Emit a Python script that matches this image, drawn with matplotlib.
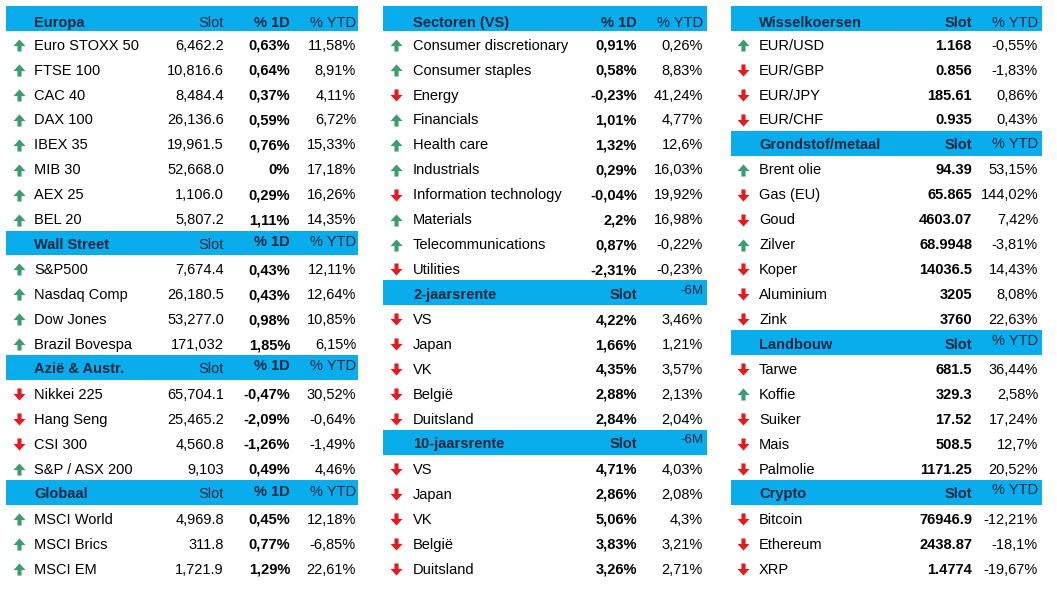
import matplotlib
matplotlib.use("Agg")
import matplotlib.pyplot as plt
from matplotlib.path import Path

# ---- data ----
europa_names = ["Euro STOXX 50", "FTSE 100", "CAC 40", "DAX 100", "IBEX 35", "MIB 30", "AEX 25", "BEL 20"]
europa_slot = ["6,462.2", "10,816.6", "8,484.4", "26,136.6", "19,961.5", "52,668.0", "1,106.0", "5,807.2"]
europa_1d = ["0,63%", "0,64%", "0,37%", "0,59%", "0,76%", "0%", "0,29%", "1,11%"]
europa_ytd = ["11,58%", "8,91%", "4,11%", "6,72%", "15,33%", "17,18%", "16,26%", "14,35%"]
europa_dir = [1, 1, 1, 1, 1, 1, 1, 1]

ws_names = ["S&P500", "Nasdaq Comp", "Dow Jones", "Brazil Bovespa"]
ws_slot = ["7,674.4", "26,180.5", "53,277.0", "171,032"]
ws_1d = ["0,43%", "0,43%", "0,98%", "1,85%"]
ws_ytd = ["12,11%", "12,64%", "10,85%", "6,15%"]
ws_dir = [1, 1, 1, 1]

azie_names = ["Nikkei 225", "Hang Seng", "CSI 300", "S&P / ASX 200"]
azie_slot = ["65,704.1", "25,465.2", "4,560.8", "9,103"]
azie_1d = ["-0,47%", "-2,09%", "-1,26%", "0,49%"]
azie_ytd = ["30,52%", "-0,64%", "-1,49%", "4,46%"]
azie_dir = [-1, -1, -1, 1]

glob_names = ["MSCI World", "MSCI Brics", "MSCI EM"]
glob_slot = ["4,969.8", "311.8", "1,721.9"]
glob_1d = ["0,45%", "0,77%", "1,29%"]
glob_ytd = ["12,18%", "-6,85%", "22,61%"]
glob_dir = [1, 1, 1]

sect_names = ["Consumer discretionary", "Consumer staples", "Energy", "Financials", "Health care",
              "Industrials", "Information technology", "Materials", "Telecommunications", "Utilities"]
sect_1d = ["0,91%", "0,58%", "-0,23%", "1,01%", "1,32%", "0,29%", "-0,04%", "2,2%", "0,87%", "-2,31%"]
sect_ytd = ["0,26%", "8,83%", "41,24%", "4,77%", "12,6%", "16,03%", "19,92%", "16,98%", "-0,22%", "-0,23%"]
sect_dir = [1, 1, -1, 1, 1, 1, -1, 1, 1, -1]

rente_names = ["VS", "Japan", "VK", "België", "Duitsland"]
rente2_slot = ["4,22%", "1,66%", "4,35%", "2,88%", "2,84%"]
rente2_6m = ["3,46%", "1,21%", "3,57%", "2,13%", "2,04%"]
rente2_dir = [-1, -1, -1, -1, -1]
rente10_slot = ["4,71%", "2,86%", "5,06%", "3,83%", "3,26%"]
rente10_6m = ["4,03%", "2,08%", "4,3%", "3,21%", "2,71%"]
rente10_dir = [-1, -1, -1, -1, -1]

fx_names = ["EUR/USD", "EUR/GBP", "EUR/JPY", "EUR/CHF"]
fx_slot = ["1.168", "0.856", "185.61", "0.935"]
fx_ytd = ["-0,55%", "-1,83%", "0,86%", "0,43%"]
fx_dir = [1, -1, -1, -1]

grond_names = ["Brent olie", "Gas (EU)", "Goud", "Zilver", "Koper", "Aluminium", "Zink"]
grond_slot = ["94.39", "65.865", "4603.07", "68.9948", "14036.5", "3205", "3760"]
grond_ytd = ["53,15%", "144,02%", "7,42%", "-3,81%", "14,43%", "8,08%", "22,63%"]
grond_dir = [1, -1, -1, 1, -1, -1, -1]

land_names = ["Tarwe", "Koffie", "Suiker", "Mais", "Palmolie"]
land_slot = ["681.5", "329.3", "17.52", "508.5", "1171.25"]
land_ytd = ["36,44%", "2,58%", "17,24%", "12,7%", "20,52%"]
land_dir = [-1, 1, -1, -1, -1]

crypto_names = ["Bitcoin", "Ethereum", "XRP"]
crypto_slot = ["76946.9", "2438.87", "1.4774"]
crypto_ytd = ["-12,21%", "-18,1%", "-19,67%"]
crypto_dir = [-1, -1, -1]

# ---- styling ----
W, H = 1057, 592
BLUE = "#0AADEB"
NAVY = "#0F2741"
GREEN = "#3D9B70"
RED = "#E31A1F"
FONT = "Liberation Sans"
FS = 10.5
ROW0 = 6.0
PITCH = 24.95
CAP = 5.2  # half cap height in px

# header cells: (text, bold, dy, small)
panels = [
    dict(x0=6, x1=358, arrow=19, name=34, cols=[224, 290, 356], sections=[
        (("Europa", [("Slot", False, 0, False), ("% 1D", True, 0, False), ("% YTD", False, 0, False)]),
         europa_names, [europa_slot, europa_1d, europa_ytd], europa_dir),
        (("Wall Street", [("Slot", False, 0, False), ("% 1D", True, -3, False), ("% YTD", False, -3, False)]),
         ws_names, [ws_slot, ws_1d, ws_ytd], ws_dir),
        (("Azië & Austr.", [("Slot", False, 0, False), ("% 1D", True, -3, False), ("% YTD", False, -3, False)]),
         azie_names, [azie_slot, azie_1d, azie_ytd], azie_dir),
        (("Globaal", [("Slot", False, 0, False), ("% 1D", True, -2, False), ("% YTD", False, -2, False)]),
         glob_names, [glob_slot, glob_1d, glob_ytd], glob_dir),
    ], bold_col=1),
    dict(x0=383, x1=707, arrow=396, name=413, cols=[637, 703], sections=[
        (("Sectoren (VS)", [("% 1D", True, 0, False), ("% YTD", False, 0, False)]),
         sect_names, [sect_1d, sect_ytd], sect_dir),
        (("2-jaarsrente", [("Slot", True, 0, False), ("-6M", False, -5, True)]),
         rente_names, [rente2_slot, rente2_6m], rente2_dir),
        (("10-jaarsrente", [("Slot", True, 0, False), ("-6M", False, -5, True)]),
         rente_names, [rente10_slot, rente10_6m], rente10_dir),
    ], bold_col=0),
    dict(x0=731, x1=1042, arrow=743, name=759, cols=[972, 1038], sections=[
        (("Wisselkoersen", [("Slot", True, 0, False), ("% YTD", False, 0, False)]),
         fx_names, [fx_slot, fx_ytd], fx_dir),
        (("Grondstof/metaal", [("Slot", True, 0, False), ("% YTD", False, -1, False)]),
         grond_names, [grond_slot, grond_ytd], grond_dir),
        (("Landbouw", [("Slot", True, 0, False), ("% YTD", False, -4, False)]),
         land_names, [land_slot, land_ytd], land_dir),
        (("Crypto", [("Slot", True, 0, False), ("% YTD", False, -4, False)]),
         crypto_names, [crypto_slot, crypto_ytd], crypto_dir),
    ], bold_col=0),
]

# arrow marker shapes
up_verts = [(0, 0.5), (0.5, -0.05), (0.17, -0.05), (0.17, -0.5), (-0.17, -0.5),
            (-0.17, -0.05), (-0.5, -0.05), (0, 0.5)]
up_arrow = Path(up_verts, closed=True)
down_arrow = Path([(x, -y) for x, y in up_verts], closed=True)

fig = plt.figure(figsize=(W / 100, H / 100), dpi=100)
ax = fig.add_axes([0, 0, 1, 1])
ax.set_xlim(0, W)
ax.set_ylim(H, 0)
ax.axis("off")

for p in panels:
    row = 0
    for (title, heads), names, cols, dirs in p["sections"]:
        top = ROW0 + row * PITCH
        ax.add_patch(plt.Rectangle((p["x0"], top), p["x1"] - p["x0"], PITCH,
                                   facecolor=BLUE, edgecolor="none"))
        base = top + PITCH / 2 + CAP + (3 if row == 0 else 0.5)
        ax.text(p["name"], base, title, ha="left", va="baseline", fontsize=FS,
                fontweight="bold", color=NAVY, family=FONT)
        for cx, (lab, bold, dy, small) in zip(p["cols"][-len(heads):], heads):
            if small:
                ax.text(cx, base + dy, lab, ha="right", va="baseline", fontsize=9.5,
                        color=NAVY, family=["Liberation Sans Narrow", FONT])
            else:
                ax.text(cx, base + dy, lab, ha="right", va="baseline", fontsize=FS,
                        fontweight="bold" if bold else "normal", color=NAVY, family=FONT)
        row += 1
        for i, nm in enumerate(names):
            yc = ROW0 + row * PITCH + PITCH / 2
            base = yc + CAP + 1
            ax.text(p["name"], base, nm, ha="left", va="baseline", fontsize=FS,
                    color="black", family=FONT)
            for j, (cx, col) in enumerate(zip(p["cols"], cols)):
                ax.text(cx, base, col[i], ha="right", va="baseline", fontsize=FS,
                        fontweight="bold" if j == p["bold_col"] else "normal",
                        color="black", family=FONT)
            d = dirs[i]
            ax.scatter([p["arrow"]], [yc + 1.5], marker=up_arrow if d > 0 else down_arrow,
                       s=76, color=GREEN if d > 0 else RED, linewidths=0)
            row += 1

fig.savefig("out.png", dpi=100)
